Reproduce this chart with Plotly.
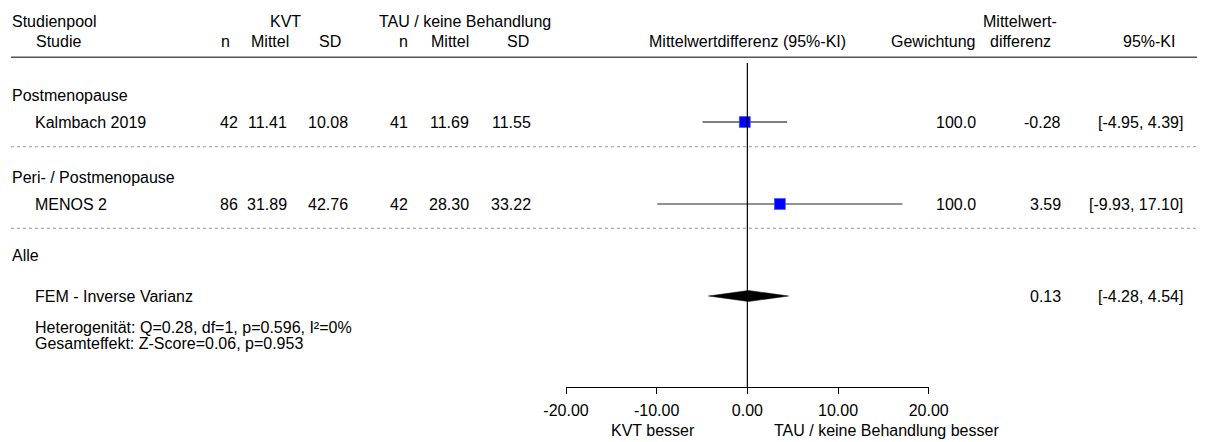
import plotly.graph_objects as go

# ---------------- data ----------------
groups = ["Postmenopause", "Peri- / Postmenopause"]
studies = ["Kalmbach 2019", "MENOS 2"]
n_kvt = [42, 86]
mean_kvt = [11.41, 31.89]
sd_kvt = [10.08, 42.76]
n_tau = [41, 42]
mean_tau = [11.69, 28.30]
sd_tau = [11.55, 33.22]
weights = [100.0, 100.0]
md = [-0.28, 3.59]
ci_lo = [-4.95, -9.93]
ci_hi = [4.39, 17.10]

pooled_label = "FEM - Inverse Varianz"
pooled_md = 0.13
pooled_lo = -4.28
pooled_hi = 4.54
het_text = "Heterogenität: Q=0.28, df=1, p=0.596, I²=0%"
overall_text = "Gesamteffekt: Z-Score=0.06, p=0.953"

x_ticks = [-20, -10, 0, 10, 20]
left_label = "KVT besser"
right_label = "TAU / keine Behandlung besser"

# ---------------- layout helpers ----------------
W, H = 1209, 442
FONT = "Liberation Sans, Arial, sans-serif"
FS = 16

group_y = [95, 177]
study_y = [122, 204]
dotted_y = [146.7, 228.3]
alle_y = 255
pooled_y = 296
het_y = [327, 343]
axis_y = 387

fig = go.Figure()

annotations = []


def txt(x, y, s, anchor="left", size=FS):
    annotations.append(dict(
        x=x / W, y=y, xref="paper", yref="y", text=s, showarrow=False,
        xanchor=anchor, yanchor="middle", font=dict(family=FONT, size=size, color="#000"),
        borderpad=0,
    ))


# header
txt(11, 21, "Studienpool")
txt(35, 41, "Studie")
txt(285.5, 21, "KVT", "center")
txt(465, 21, "TAU / keine Behandlung", "center")
for cx, s in [(226, "n"), (269.5, "Mittel"), (329.5, "SD"), (403, "n"), (450, "Mittel"), (518, "SD")]:
    txt(cx, 41, s, "center")
txt(747.5, 41, "Mittelwertdifferenz (95%-KI)", "center")
txt(977, 41, "Gewichtung", "right")
txt(1020, 21, "Mittelwert-", "center")
txt(1020, 41, "differenz", "center")
txt(1176, 41, "95%-KI", "right")

# rows
col_right = [239, 288, 349, 409, 470, 532]
for i in range(len(studies)):
    txt(11, group_y[i], groups[i])
    txt(34, study_y[i], studies[i])
    vals = [str(n_kvt[i]), f"{mean_kvt[i]:.2f}", f"{sd_kvt[i]:.2f}",
            str(n_tau[i]), f"{mean_tau[i]:.2f}", f"{sd_tau[i]:.2f}"]
    for xr, v in zip(col_right, vals):
        txt(xr, study_y[i], v, "right")
    txt(977, study_y[i], f"{weights[i]:.1f}", "right")
    txt(1062, study_y[i], f"{md[i]:.2f}", "right")
    txt(1184, study_y[i], f"[{ci_lo[i]:.2f}, {ci_hi[i]:.2f}]", "right")

txt(11, alle_y, "Alle")
txt(34, pooled_y, pooled_label)
txt(1062, pooled_y, f"{pooled_md:.2f}", "right")
txt(1184, pooled_y, f"[{pooled_lo:.2f}, {pooled_hi:.2f}]", "right")
txt(34, het_y[0], het_text)
txt(34, het_y[1], overall_text)

txt(696, 430, left_label, "right")
txt(773, 430, right_label, "left")

# ---------------- marks ----------------
ci_colors = ["#000000", "#6e6e6e"]
ci_widths = [1.2, 1.6]
for i in range(len(studies)):
    fig.add_trace(go.Scatter(
        x=[ci_lo[i], ci_hi[i]], y=[study_y[i], study_y[i]], mode="lines",
        line=dict(color=ci_colors[i], width=ci_widths[i]), hoverinfo="skip", showlegend=False))
fig.add_trace(go.Scatter(
    x=md, y=study_y, mode="markers",
    marker=dict(symbol="square", size=11, color="#0000ff", line=dict(width=0.6, color="#4a4aff")),
    showlegend=False))

# diamond
half = 5.5
fig.add_trace(go.Scatter(
    x=[pooled_lo, pooled_md, pooled_hi, pooled_md, pooled_lo],
    y=[pooled_y, pooled_y - half, pooled_y, pooled_y + half, pooled_y],
    mode="lines", fill="toself", fillcolor="#000000",
    line=dict(color="#000000", width=0.5), showlegend=False, hoverinfo="skip"))

shapes = []
# zero line
shapes.append(dict(type="line", xref="x", yref="y", x0=0, x1=0, y0=63, y1=axis_y,
                   line=dict(color="#000", width=1.2)))
# header separator
shapes.append(dict(type="line", xref="paper", yref="y", x0=11 / W, x1=1197 / W, y0=57.3, y1=57.3,
                   line=dict(color="#555", width=1.6)))
for dy in dotted_y:
    shapes.append(dict(type="line", xref="paper", yref="y", x0=11 / W, x1=1197 / W, y0=dy, y1=dy,
                       line=dict(color="#999", width=1, dash="dot")))

x0_px, x1_px = 566.0, 928.7
fig.update_layout(
    width=W, height=H,
    margin=dict(l=0, r=0, t=0, b=0, pad=0, autoexpand=False),
    paper_bgcolor="white", plot_bgcolor="rgba(0,0,0,0)",
    showlegend=False,
    font=dict(family=FONT, size=FS, color="#000"),
    xaxis=dict(
        domain=[x0_px / W, x1_px / W], range=[-20, 20],
        anchor="free", position=1 - axis_y / H,
        showline=True, linecolor="#000", linewidth=1.2,
        ticks="outside", ticklen=6, tickwidth=1.2, tickcolor="#000",
        tickvals=x_ticks, ticktext=[f"{v:.2f}" for v in x_ticks],
        tickfont=dict(family=FONT, size=FS, color="#000"),
        ticklabelstandoff=3,
        showgrid=False, zeroline=False, fixedrange=True,
    ),
    yaxis=dict(domain=[0, 1], range=[H, 0], visible=False, showgrid=False, zeroline=False, fixedrange=True),
    annotations=annotations,
    shapes=shapes,
)

fig.write_html("out.html")
